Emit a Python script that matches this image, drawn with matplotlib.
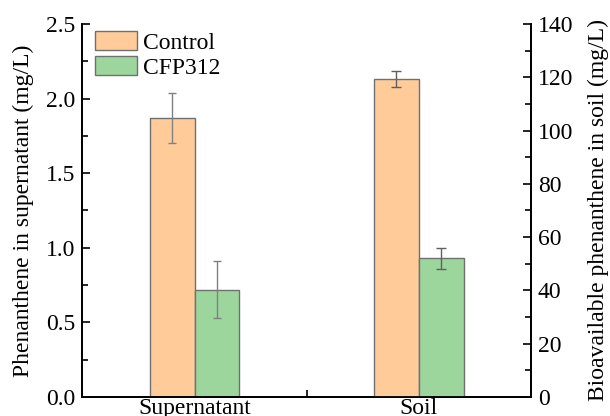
import matplotlib
matplotlib.use('Agg')
import matplotlib.pyplot as plt
from matplotlib.ticker import MultipleLocator, FixedLocator

plt.rcParams['font.family'] = ['Liberation Serif', 'DejaVu Serif']

groups = ['Supernatant', 'Soil']
series = ['Control', 'CFP312']
super_mean = [1.87, 0.72]
super_err = [0.17, 0.19]
soil_mean = [119.4, 52.1]
soil_err = [3.1, 3.9]
colors = ['#ffcc99', '#9cd69c']
edge = '#707070'

fig = plt.figure(figsize=(6.1, 4.16), dpi=100)
ax = fig.add_axes([0.1352, 0.0457, 0.7353, 0.8966])
ax2 = ax.twinx()

w = 0.2
for i, name in enumerate(series):
    ax.bar(0 + (i - 0.5) * w, super_mean[i], w, yerr=super_err[i],
           color=colors[i], edgecolor=edge, linewidth=1, label=name,
           error_kw=dict(ecolor='#808080', elinewidth=1, capsize=3, capthick=1))
    ax2.bar(1 + (i - 0.5) * w, soil_mean[i], w, yerr=soil_err[i],
            color=colors[i], edgecolor=edge, linewidth=1,
            error_kw=dict(ecolor='#606060', elinewidth=1, capsize=3.5, capthick=1))

ax.set_xlim(-0.5, 1.5)
ax.set_ylim(0, 2.5)
ax2.set_ylim(0, 140)

ax.set_xticks([0, 1], groups)
ax.xaxis.set_minor_locator(FixedLocator([0.5]))
ax.tick_params(axis='x', which='major', length=0, pad=0.5, labelsize=17)
ax.tick_params(axis='x', which='minor', direction='in', length=5, width=1.2)

ax.yaxis.set_major_locator(MultipleLocator(0.5))
ax.yaxis.set_minor_locator(MultipleLocator(0.25))
ax.tick_params(axis='y', which='major', direction='in', length=6, width=1.2, labelsize=17, pad=5)
ax.tick_params(axis='y', which='minor', direction='in', length=4, width=1.2)

ax2.yaxis.set_major_locator(MultipleLocator(20))
ax2.yaxis.set_minor_locator(MultipleLocator(10))
ax2.tick_params(axis='y', which='major', direction='in', length=6, width=1.2, labelsize=17, pad=5)
ax2.tick_params(axis='y', which='minor', direction='in', length=4, width=1.2)

for a in (ax, ax2):
    a.spines['top'].set_visible(False)
    for s in ('left', 'right', 'bottom'):
        a.spines[s].set_linewidth(1.3)

ax.set_ylabel('Phenanthene in supernatant (mg/L)', fontsize=17, labelpad=9)
ax2.set_ylabel('Bioavailable phenanthene in soil (mg/L)', fontsize=17, labelpad=10)

ax.legend(loc='upper left', bbox_to_anchor=(0.028, 0.981), frameon=False,
          fontsize=17, borderpad=0, borderaxespad=0, handlelength=1.78,
          handleheight=0.85, handletextpad=0.25, labelspacing=0.1)

fig.savefig('out.png', dpi=100)
